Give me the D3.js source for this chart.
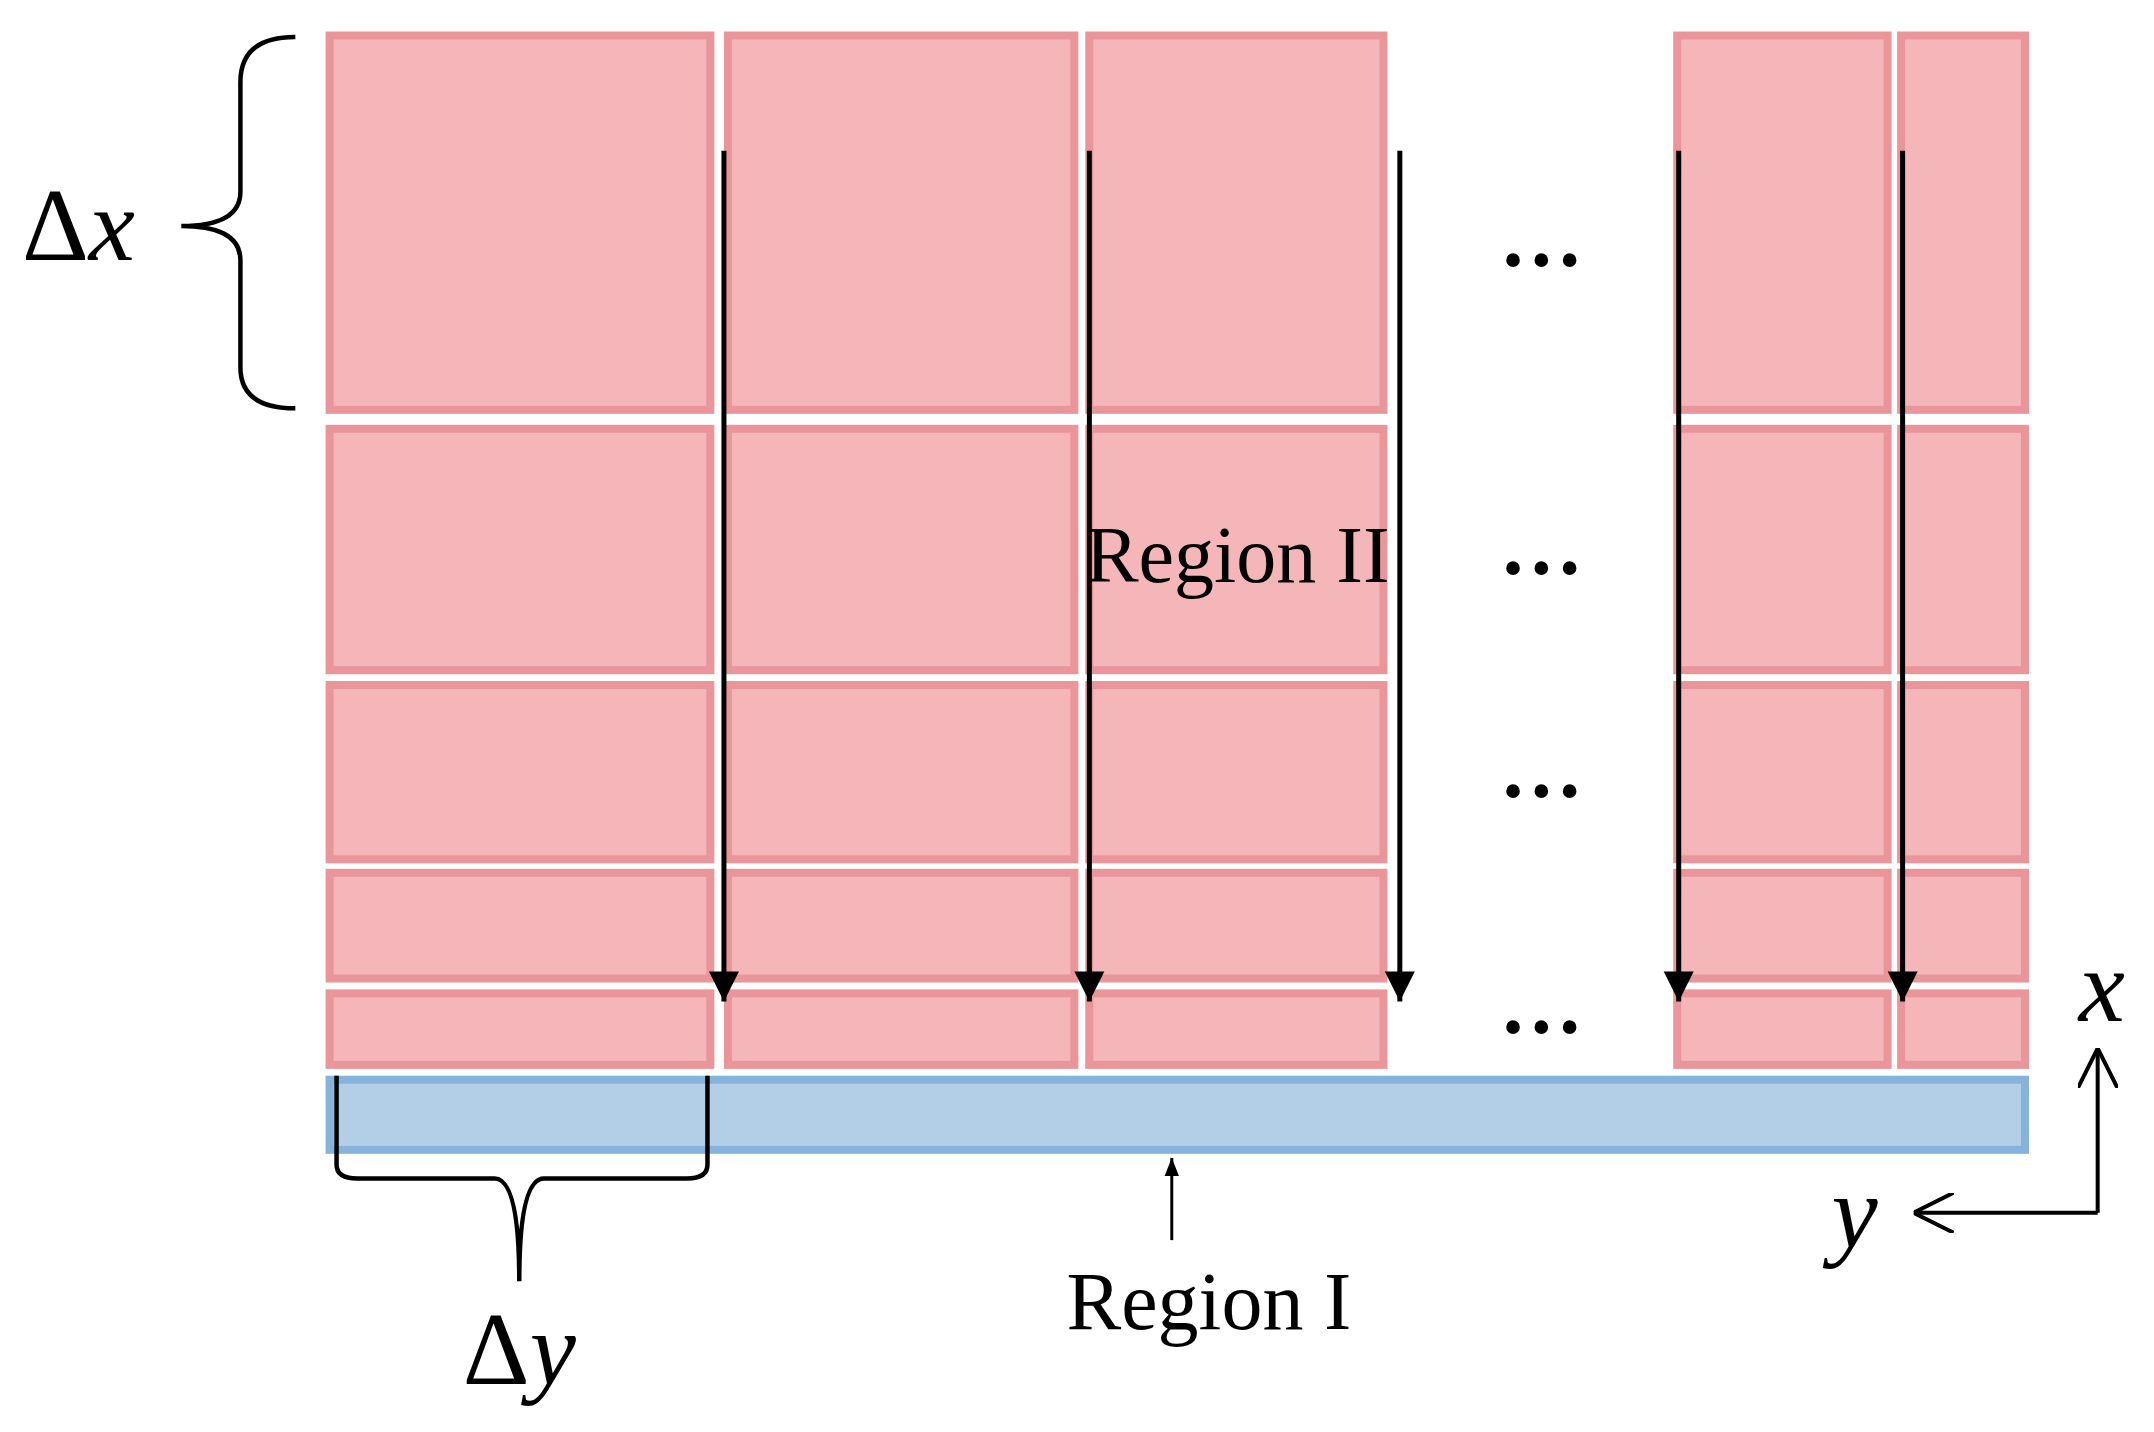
<!DOCTYPE html>
<html><head><meta charset="utf-8">
<script src="https://cdn.jsdelivr.net/npm/d3@7"></script>
<style>body{margin:0;background:#fff}</style>
</head><body>
<svg id="chart" width="2154" height="1432"></svg>
<script>
// grid layout (reference units, 1568 x 1045)
const colEdges = [[237, 520], [527, 785], [790, 1010], [1218, 1377], [1381, 1477]];
const rowEdges = [[23, 302], [310, 492], [497, 630], [634, 717], [722, 780]];
const regionI = {x0: 237, x1: 1477, y0: 785, y1: 842};
const arrowsX = [527, 793, 1019, 1222, 1385];
const arrowY = [110, 725];
const dotsY = [185, 410, 573, 745];

const svg = d3.select("#chart");
const sx = d3.scaleLinear().domain([0, 1568]).range([0, 2154]);
const sy = d3.scaleLinear().domain([0, 1045]).range([0, 1432]);
const serif = "Liberation Serif";

const defs = svg.append("defs");
defs.append("marker").attr("id", "tri").attr("viewBox", "0 0 10 10")
    .attr("refX", 10).attr("refY", 5).attr("markerWidth", 6).attr("markerHeight", 8)
    .attr("markerUnits", "strokeWidth").attr("orient", "auto")
    .append("path").attr("d", "M0,0 L10,5 L0,10 Z").attr("fill", "#000");
defs.append("marker").attr("id", "open").attr("viewBox", "0 0 10 10")
    .attr("refX", 10).attr("refY", 5).attr("markerWidth", 40).attr("markerHeight", 40)
    .attr("markerUnits", "userSpaceOnUse").attr("orient", "auto")
    .append("path").attr("d", "M0,0 L10,5 L0,10").attr("fill", "none")
    .attr("stroke", "#000").attr("stroke-width", 1);
defs.append("marker").attr("id", "small").attr("viewBox", "0 0 10 10")
    .attr("refX", 10).attr("refY", 5).attr("markerWidth", 18).attr("markerHeight", 18)
    .attr("markerUnits", "userSpaceOnUse").attr("orient", "auto")
    .append("path").attr("d", "M0,1 L10,5 L0,9 Z").attr("fill", "#000");

// cells
const cells = [];
colEdges.forEach(c => rowEdges.forEach(r => cells.push({c, r})));
svg.selectAll("rect.cell").data(cells).enter().append("rect")
    .attr("class", "cell")
    .attr("x", d => sx(d.c[0]) + 4).attr("y", d => sy(d.r[0]) + 4)
    .attr("width", d => sx(d.c[1]) - sx(d.c[0]) - 8)
    .attr("height", d => sy(d.r[1]) - sy(d.r[0]) - 8)
    .attr("fill", "#f4b6b8").attr("stroke", "#ea959a").attr("stroke-width", 8);

svg.append("rect")
    .attr("x", sx(regionI.x0) + 4).attr("y", sy(regionI.y0) + 4)
    .attr("width", sx(regionI.x1) - sx(regionI.x0) - 8)
    .attr("height", sy(regionI.y1) - sy(regionI.y0) - 8)
    .attr("fill", "#b3cfe8").attr("stroke", "#86b3d9").attr("stroke-width", 8);

// flow arrows
svg.selectAll("line.flow").data(arrowsX).enter().append("line")
    .attr("x1", d => sx(d)).attr("x2", d => sx(d))
    .attr("y1", sy(arrowY[0])).attr("y2", sy(arrowY[1]) + 8)
    .attr("stroke", "#000").attr("stroke-width", 5).attr("marker-end", "url(#tri)");

// ellipses
svg.selectAll("text.dots").data(dotsY).enter().append("text")
    .attr("x", sx(1122)).attr("y", d => sy(d) + 12)
    .attr("text-anchor", "middle").attr("font-family", serif)
    .attr("font-weight", "bold").attr("font-size", 84).text("…");

svg.append("text").attr("x", sx(790)).attr("y", sy(425))
    .attr("font-family", serif).attr("font-size", 80).text("Region II");
svg.append("text").attr("x", sx(880)).attr("y", sy(970)).attr("text-anchor", "middle")
    .attr("font-family", serif).attr("font-size", 82).text("Region I");

// region I pointer
svg.append("line").attr("x1", sx(853)).attr("x2", sx(853))
    .attr("y1", sy(905)).attr("y2", sy(845))
    .attr("stroke", "#000").attr("stroke-width", 3).attr("marker-end", "url(#small)");

// braces
svg.append("path")
    .attr("d", `M${sx(215)},${sy(27)} Q${sx(175)},${sy(27)} ${sx(175)},${sy(60)} L${sx(175)},${sy(140)} Q${sx(175)},${sy(165)} ${sx(132)},${sy(165)} Q${sx(175)},${sy(165)} ${sx(175)},${sy(190)} L${sx(175)},${sy(268)} Q${sx(175)},${sy(298)} ${sx(215)},${sy(298)}`)
    .attr("fill", "none").attr("stroke", "#000").attr("stroke-width", 4.5);
svg.append("path")
    .attr("d", `M${sx(245)},${sy(785)} L${sx(245)},${sy(850)} Q${sx(245)},${sy(860)} ${sx(260)},${sy(860)} L${sx(360)},${sy(860)} Q${sx(378)},${sy(860)} ${sx(378)},${sy(935)} Q${sx(378)},${sy(860)} ${sx(396)},${sy(860)} L${sx(500)},${sy(860)} Q${sx(515)},${sy(860)} ${sx(515)},${sy(850)} L${sx(515)},${sy(785)}`)
    .attr("fill", "none").attr("stroke", "#000").attr("stroke-width", 4.5);

svg.append("text").attr("x", sx(16)).attr("y", sy(190))
    .attr("font-family", serif).attr("font-size", 104)
    .html('Δ<tspan font-style="italic">x</tspan>');
svg.append("text").attr("x", sx(378)).attr("y", sy(1010)).attr("text-anchor", "middle")
    .attr("font-family", serif).attr("font-size", 104)
    .html('Δ<tspan font-style="italic">y</tspan>');

// axes glyph
svg.append("path")
    .attr("d", `M${sx(1527)},${sy(885)} L${sx(1527)},${sy(765)}`)
    .attr("fill", "none").attr("stroke", "#000").attr("stroke-width", 4)
    .attr("marker-end", "url(#open)");
svg.append("path")
    .attr("d", `M${sx(1527)},${sy(885)} L${sx(1393)},${sy(885)}`)
    .attr("fill", "none").attr("stroke", "#000").attr("stroke-width", 4)
    .attr("marker-end", "url(#open)");
svg.append("text").attr("x", sx(1530)).attr("y", sy(745)).attr("text-anchor", "middle")
    .attr("font-family", serif).attr("font-style", "italic").attr("font-size", 104).text("x");
svg.append("text").attr("x", sx(1350)).attr("y", sy(910)).attr("text-anchor", "middle")
    .attr("font-family", serif).attr("font-style", "italic").attr("font-size", 104).text("y");
</script>
</body></html>
